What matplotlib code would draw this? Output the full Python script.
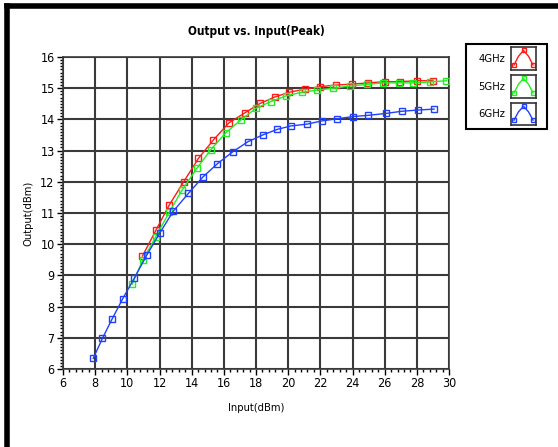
import matplotlib
matplotlib.use("Agg")
import matplotlib.pyplot as plt
from matplotlib.ticker import MultipleLocator
from matplotlib.lines import Line2D
from matplotlib.patches import Rectangle

plt.rcParams['font.family'] = ['DejaVu Sans']
plt.rcParams['font.stretch'] = 'condensed'

# ---- data ----
x_4ghz = [10.94, 11.78, 12.6, 13.5, 14.42, 15.35, 16.32, 17.31, 18.25, 19.18, 20.07,
          21.04, 21.98, 22.95, 23.94, 24.97, 26.01, 26.94, 28.04, 29.01]
y_4ghz = [9.62, 10.45, 11.25, 12.0, 12.75, 13.34, 13.89, 14.21, 14.51, 14.72, 14.87,
          14.97, 15.05, 15.1, 15.13, 15.17, 15.21, 15.21, 15.24, 15.24]

x_5ghz = [10.3, 10.96, 11.77, 12.6, 13.4, 14.32, 15.19, 16.12, 17.05, 17.98, 18.91,
          19.84, 20.84, 21.81, 22.8, 23.83, 24.88, 25.91, 26.9, 27.77, 28.8, 29.84]
y_5ghz = [8.72, 9.49, 10.24, 11.02, 11.73, 12.43, 13.03, 13.57, 13.98, 14.35, 14.57,
          14.75, 14.87, 14.94, 15.0, 15.07, 15.12, 15.17, 15.17, 15.17, 15.2, 15.24]

x_6ghz = [7.88, 8.45, 9.04, 9.70, 10.44, 11.21, 12.03, 12.86, 13.8, 14.69, 15.6, 16.55,
          17.48, 18.41, 19.32, 20.17, 21.19, 22.08, 23.05, 24.0, 24.97, 26.07, 27.05,
          28.08, 29.07]
y_6ghz = [6.34, 6.98, 7.59, 8.24, 8.92, 9.65, 10.37, 11.06, 11.63, 12.15, 12.58, 12.96,
          13.28, 13.5, 13.68, 13.79, 13.85, 13.95, 14.02, 14.09, 14.13, 14.19, 14.26,
          14.30, 14.33]

labels = ["4GHz", "5GHz", "6GHz"]
colors = ["#ff1a1a", "#22ee22", "#2040ff"]

W, H = 558, 447
fig = plt.figure(figsize=(W / 100, H / 100), dpi=100)

# window frame (thick black left and top edges)
fig.add_artist(Line2D([7 / W, 7 / W], [0, 1 - 6 / H], color="black", lw=4,
                      transform=fig.transFigure))
fig.add_artist(Line2D([7 / W, 1], [1 - 6 / H, 1 - 6 / H], color="black", lw=4,
                      transform=fig.transFigure))

L, R, T, B = 63, 449, 57, 369
ax = fig.add_axes([L / W, 1 - B / H, (R - L) / W, (B - T) / H])

series = [(x_4ghz, y_4ghz), (x_5ghz, y_5ghz), (x_6ghz, y_6ghz)]
for (xs, ys), c, lab in zip(series, colors, labels):
    ax.plot(xs, ys, color=c, lw=1, marker="s", ms=4, mfc="none", mec=c, mew=1,
            label=lab, zorder=3)

ax.set_xlim(6, 30)
ax.set_ylim(6, 16)
ax.xaxis.set_major_locator(MultipleLocator(2))
ax.xaxis.set_minor_locator(MultipleLocator(0.4))
ax.yaxis.set_major_locator(MultipleLocator(1))
ax.yaxis.set_minor_locator(MultipleLocator(0.1))
ax.grid(True, which="major", color="#3a3a3a", lw=1.5)
ax.tick_params(which="major", direction="out", length=4, width=1, labelsize=9,
               pad=2)
ax.tick_params(which="minor", direction="out", length=2, width=1)
for s in ax.spines.values():
    s.set_color("#3a3a3a")
    s.set_linewidth(1.2)

ax.set_title("Output vs. Input(Peak)", fontsize=8.5, fontweight="bold", pad=16)
ax.set_xlabel("Input(dBm)", fontsize=8, labelpad=9)
ax.set_ylabel("Output(dBm)", fontsize=8, labelpad=5)

# custom legend box
lx0, ly0, lx1, ly1 = 466, 44, 547, 129
fig.add_artist(Rectangle((lx0 / W, 1 - ly1 / H), (lx1 - lx0) / W, (ly1 - ly0) / H,
                         transform=fig.transFigure, fill=False, ec="black", lw=1.5))
rows = [(47, 70), (75, 98), (103, 125)]
for (r0, r1), c, lab in zip(rows, colors, labels):
    ymid = (r0 + r1) / 2
    fig.text(505 / W, 1 - ymid / H, lab, ha="right", va="center", fontsize=8)
    iax = fig.add_axes([511 / W, 1 - r1 / H, 25 / W, (r1 - r0) / H])
    iax.set_xlim(0, 1)
    iax.set_ylim(0, 1)
    iax.set_xticks([])
    iax.set_yticks([])
    for s in iax.spines.values():
        s.set_color("#333333")
        s.set_linewidth(1.2)
    iax.plot([0.12, 0.3, 0.5, 0.7, 0.88], [0.22, 0.6, 0.85, 0.6, 0.22], color=c, lw=1)
    iax.plot([0.12, 0.5, 0.88], [0.22, 0.85, 0.22], ls="none", marker="s", ms=3.5,
             mfc="none", mec=c, mew=1)

fig.savefig("out.png", dpi=100, facecolor="white")
